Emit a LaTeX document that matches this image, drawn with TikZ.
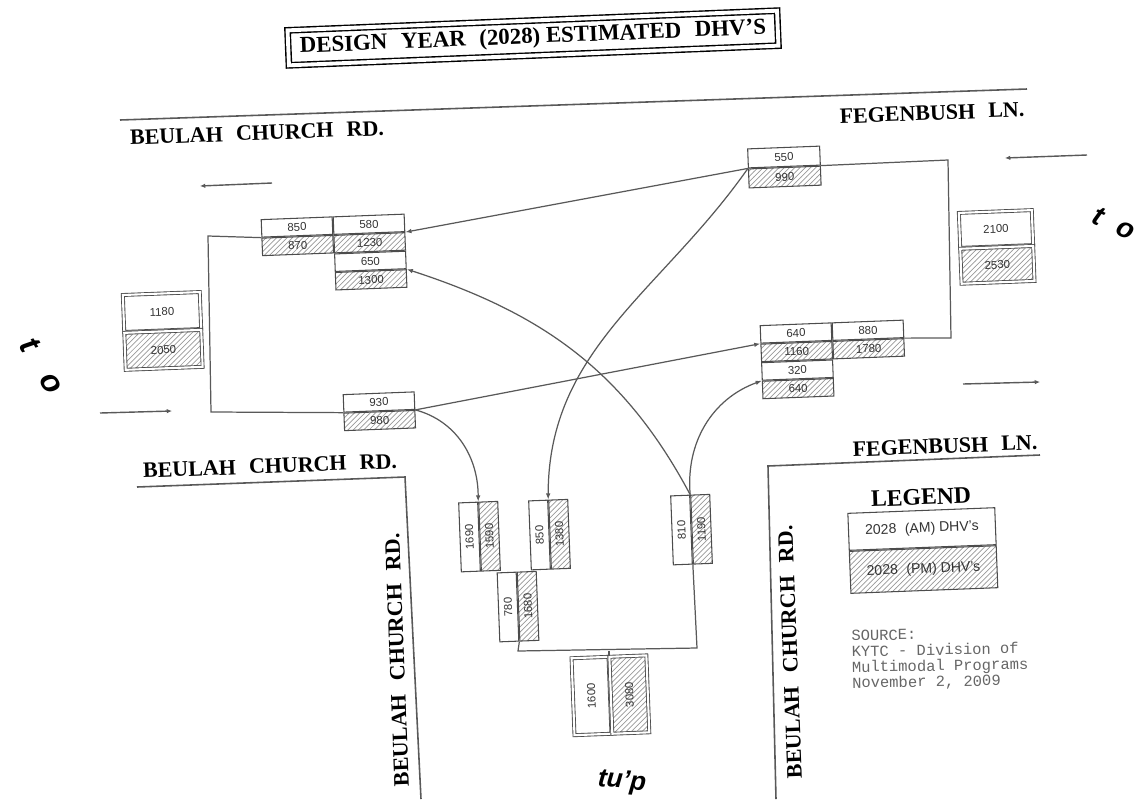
\documentclass[tikz,border=0pt]{standalone}
\usepackage{fontspec}
\setmainfont{Liberation Serif}
\setsansfont{Liberation Sans}
\setmonofont{Liberation Mono}
\usetikzlibrary{positioning,arrows.meta,patterns}

\newcommand{\gap}{\hspace{0.6em}}

\tikzset{
  road/.style={draw=black!65, line width=0.9pt},
  roadname/.style={font=\bfseries\fontsize{12.5}{14}\selectfont, inner sep=1pt, rotate=2.2},
  vol/.style={draw=black!70, line width=0.6pt, inner sep=0pt, rotate=2.2,
    minimum width=1.42cm, minimum height=0.35cm,
    font=\sffamily\fontsize{6.5}{7}\selectfont, text=black!80},
  am/.style={vol, fill=white},
  pm/.style={vol, pattern=north east lines, pattern color=black!40},
  vam/.style={am, rotate=90, minimum width=1.38cm, minimum height=0.38cm},
  vpm/.style={pm, rotate=90, minimum width=1.38cm, minimum height=0.38cm},
  entry/.style={double, double distance=1.2pt, line width=0.5pt},
  link/.style={draw=black!65, line width=0.7pt},
  flow/.style={link, -{Latex[length=3.5pt,width=2.6pt]}},
  trafficdir/.style={draw=black!65, line width=0.8pt, -{Latex[length=3pt,width=2.6pt]}},
  hand/.style={font=\sffamily\bfseries\itshape\fontsize{15}{16}\selectfont, inner sep=0pt},
}

\begin{document}
\begin{tikzpicture}[x=0.02cm, y=-0.02cm]
\useasboundingbox (0,0) rectangle (1137,799);

% title
\node[draw, double, double distance=2.2pt, line width=0.8pt, rotate=2.3,
  minimum width=9.8cm, minimum height=0.7cm,
  font=\bfseries\fontsize{13}{15}\selectfont] (title) at (533,38)
  {DESIGN\gap YEAR\gap (2028) ESTIMATED\gap DHV'S};

% roads and names
\draw[road] (120,120) -- (1027,89);
\node[roadname] (nwname) at (257,133) {BEULAH\gap CHURCH\gap RD.};
\node[roadname] (nename) at (932,113) {FEGENBUSH\gap LN.};
\draw[road] (137,487) -- (405,477) -- (421,799);
\node[roadname] (swname) at (270,466) {BEULAH\gap CHURCH\gap RD.};
\node[roadname, rotate=90] (swname2) at (397,660) {BEULAH\gap CHURCH\gap RD.};
\draw[road] (1040,455) -- (768,466) -- (776,799);
\node[roadname] (sename) at (945,446) {FEGENBUSH\gap LN.};
\node[roadname, rotate=90] (sename2) at (790,652) {BEULAH\gap CHURCH\gap RD.};

% travel directions
\draw[trafficdir] (272,183) -- (200,186);
\draw[trafficdir] (1087,155) -- (1005,158);
\draw[trafficdir] (100,413) -- (172,411);
\draw[trafficdir] (963,384) -- (1040,382);

% hand notes
\node[hand, rotate=-60, font=\sffamily\bfseries\itshape\fontsize{18}{20}\selectfont] (wnote) at (42,366) {t\hspace{0.9em}o};
\node[hand, rotate=-25, font=\sffamily\bfseries\itshape\fontsize{16}{18}\selectfont] (enote) at (1114,223) {t\hspace{0.6em}o};
\node[hand, rotate=-5] (snote) at (622,782) {tu'p};

% approach totals
\node[am, entry, minimum width=1.54cm, minimum height=0.74cm] (wina) at (162,312) {1180};
\node[pm, entry, minimum width=1.54cm, minimum height=0.74cm, below=0pt of wina] (winp) {2050};
\node[am, entry, minimum width=1.46cm, minimum height=0.7cm] (eina) at (996,229) {2100};
\node[pm, entry, minimum width=1.46cm, minimum height=0.7cm, below=0pt of eina] (einp) {2530};
\node[vam, entry, minimum width=1.54cm, minimum height=0.74cm] (sina) at (591.5,696) {1600};
\node[vpm, entry, minimum width=1.54cm, minimum height=0.74cm, below=0pt of sina] (sinp) {3080};

% movements
\node[am, minimum width=1.44cm, minimum height=0.38cm] (topa) at (784,157) {550};
\node[pm, minimum width=1.44cm, minimum height=0.38cm, below=0pt of topa] (topp) {990};

\node[am] (t1a) at (297,227) {850};
\node[pm, below=0pt of t1a] (t1p) {870};
\node[am, right=0pt of t1a] (t2a) {580};
\node[pm, below=0pt of t2a] (t2p) {1230};
\node[am, below=0pt of t2p] (t3a) {650};
\node[pm, below=0pt of t3a] (t3p) {1300};

\node[am] (l3a) at (379,402) {930};
\node[pm, below=0pt of l3a] (l3p) {980};

\node[am] (r1a) at (796,333) {640};
\node[pm, below=0pt of r1a] (r1p) {1160};
\node[am, right=0pt of r1a] (r2a) {880};
\node[pm, below=0pt of r2a] (r2p) {1780};
\node[am, below=0pt of r1p] (r3a) {320};
\node[pm, below=0pt of r3a] (r3p) {640};

\node[vam] (b1a) at (469.5,537) {1690};
\node[vpm, below=0pt of b1a] (b1p) {1590};
\node[vam] (b2a) at (539.5,535) {850};
\node[vpm, below=0pt of b2a] (b2p) {1380};
\node[vam] (b3a) at (681.5,530) {810};
\node[vpm, below=0pt of b3a] (b3p) {1190};
\node[vam] (b4a) at (508,607) {780};
\node[vpm, below=0pt of b4a] (b4p) {1680};

% lane lines
\coordinate (nw) at (208,236);
\coordinate (sw) at (211,412);
\draw[link] (t1a.south west) -- (nw) -- (sw) -- (l3a.south west);
\coordinate (ne) at (948,160);
\coordinate (se) at (951,338);
\draw[link] (topa.south east) -- (ne) -- (se) -- (r2a.south east);
\coordinate (bl) at (518,651);
\coordinate (br) at (697,648);
\draw[link] (b4a.south west) -- (bl) -- (br) -- (b3a.south west);
\draw[link] (sina.south east) -- (sina.south east |- bl);

% turning flows
\draw[flow] (topa.south west) -- (t2a.south east);
\draw[flow] (topa.south west) to[out=-125,in=90] (b2a.south east);
\draw[flow] (l3a.south east) -- (r1a.south west);
\draw[flow] (l3a.south east) to[out=-15,in=90] (b1a.south east);
\draw[flow] (b3a.south east) to[out=118,in=-18] (t3a.south east);
\draw[flow] (b3a.south east) to[out=95,in=200] (r3a.south west);

% legend
\node[font=\bfseries\fontsize{13.5}{15}\selectfont, rotate=2.2] (legtitle) at (921,497) {LEGEND};
\node[am, minimum width=2.94cm, minimum height=0.74cm, font=\sffamily\fontsize{8}{9}\selectfont] (lega) at (922,529) {2028\gap (AM) DHV's};
\node[pm, minimum width=2.94cm, minimum height=0.84cm, font=\sffamily\fontsize{8}{9}\selectfont, below=0pt of lega] (legp) {2028\gap (PM) DHV's};
\node[anchor=north west, align=left, inner sep=0pt, rotate=1, text=black!60,
  font=\ttfamily\fontsize{8.8}{9}\selectfont] (source) at (851,630)
  {SOURCE:\\KYTC - Division of\\Multimodal Programs\\November 2, 2009};
\end{tikzpicture}
\end{document}
